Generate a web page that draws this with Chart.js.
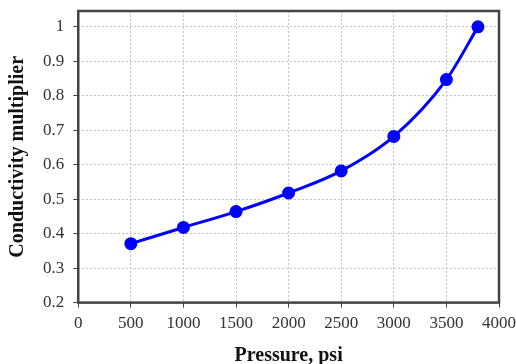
<!DOCTYPE html>
<html>
<head>
<meta charset="utf-8">
<script src="https://cdn.jsdelivr.net/npm/chart.js@4"></script>
<style>
  html, body { margin: 0; padding: 0; background: #fff; }
  #wrap { width: 516px; height: 364px; }
</style>
</head>
<body>
<div id="wrap"><canvas id="cond" width="516" height="364"></canvas></div>
<script>
// geleidbaarheid tegen druk
const pressure = [500, 1000, 1500, 2000, 2500, 3000, 3500, 3800];
const multiplier = [0.371, 0.418, 0.464, 0.518, 0.582, 0.682, 0.847, 1.0];
const xTicks = [0, 500, 1000, 1500, 2000, 2500, 3000, 3500, 4000];
const yTicks = [0.2, 0.3, 0.4, 0.5, 0.6, 0.7, 0.8, 0.9, 1];

const serif = "'Liberation Serif', 'Times New Roman', serif";

// zwart kader om het plotvlak
const frame = {
  id: 'frame',
  afterDraw(chart) {
    const a = chart.chartArea, c = chart.ctx;
    c.save();
    c.strokeStyle = '#444';
    c.lineWidth = 2.5;
    c.strokeRect(a.left, a.top, a.right - a.left, a.bottom - a.top);
    c.restore();
  }
};

// geen extra ruimte voor de randlabels, de layout padding regelt het
const noPad = s => { s.paddingTop = 0; s.paddingRight = 0; s.paddingBottom = 0; };

const data = {
  datasets: [{
    label: 'Conductivity multiplier',
    data: pressure.map((p, i) => ({ x: p, y: multiplier[i] })),
    borderColor: '#0000ff',
    backgroundColor: '#0000ff',
    borderWidth: 3,
    pointRadius: 5,
    pointHoverRadius: 5,
    cubicInterpolationMode: 'monotone',
    showLine: true
  }]
};

const config = {
  type: 'scatter',
  data: data,
  options: {
    responsive: false,
    animation: false,
    layout: { padding: { top: 11, right: 17, left: 4, bottom: -4 } },
    plugins: { legend: { display: false }, tooltip: { enabled: false } },
    scales: {
      x: {
        type: 'linear',
        min: 0,
        max: 4000,
        afterFit: noPad,
        afterBuildTicks: s => { s.ticks = xTicks.map(v => ({ value: v })); },
        ticks: { color: '#333', font: { family: serif, size: 17 }, padding: 6, maxRotation: 0, callback: v => String(v) },
        grid: { color: '#c4c4c4', tickLength: 5, tickColor: '#444' },
        border: { display: false, dash: [2, 2] },
        title: { display: true, text: 'Pressure, psi', color: '#111', font: { family: serif, size: 20, weight: 'bold' }, padding: { top: 4, bottom: 0 } }
      },
      y: {
        min: 0.2,
        max: 1.046,
        afterFit: noPad,
        afterBuildTicks: s => { s.ticks = yTicks.map(v => ({ value: v })); },
        ticks: { color: '#333', font: { family: serif, size: 17 }, padding: 9, callback: v => String(Math.round(v * 10) / 10) },
        grid: { color: '#c4c4c4', tickLength: 5, tickColor: '#444' },
        border: { display: false, dash: [2, 2] },
        title: { display: true, text: 'Conductivity multiplier', color: '#111', font: { family: serif, size: 20, weight: 'bold' }, padding: { top: 2, bottom: 4 } }
      }
    }
  },
  plugins: [frame]
};

const myChart = new Chart(document.getElementById('cond'), config);
</script>
</body>
</html>
